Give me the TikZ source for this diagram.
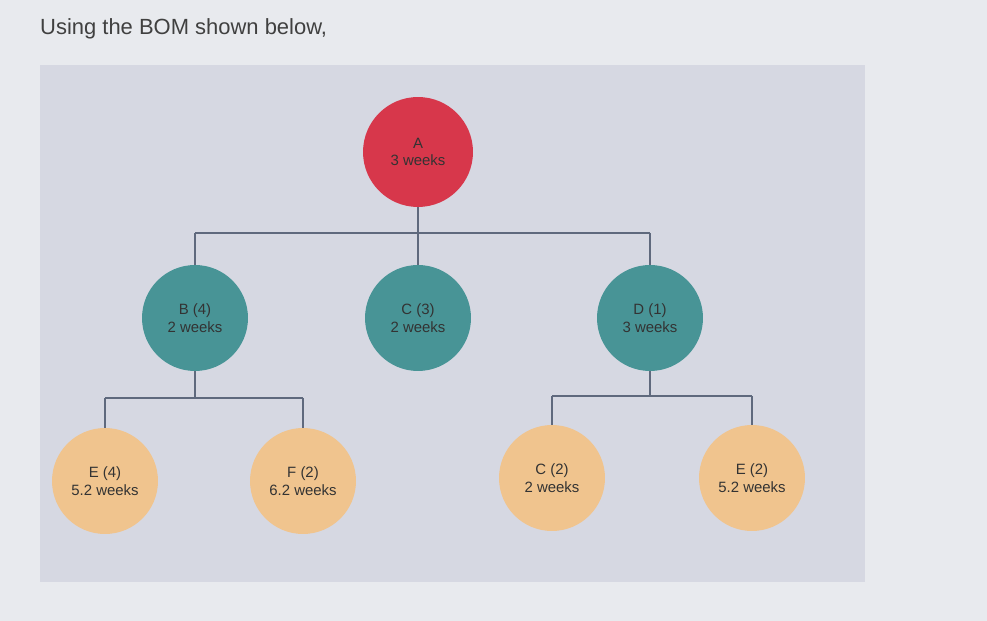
\documentclass[tikz,border=0pt]{standalone}
\usepackage{fontspec}
\setmainfont{Liberation Sans}
\definecolor{bgc}{RGB}{232,234,238}
\definecolor{panel}{RGB}{214,216,226}
\definecolor{redc}{RGB}{215,55,75}
\definecolor{tealc}{RGB}{72,148,150}
\definecolor{peach}{RGB}{240,196,142}
\definecolor{linec}{RGB}{95,105,125}
\begin{document}
\begin{tikzpicture}[x=0.02cm,y=-0.02cm,
  bub/.style={circle,minimum size=2.12cm,inner sep=0pt,align=center,font=\fontsize{8.5}{10}\selectfont,text=black!80},
  top/.style={bub,fill=redc,minimum size=2.2cm},
  mid/.style={bub,fill=tealc},
  low/.style={bub,fill=peach},
  link/.style={draw=linec,line width=0.9pt}]
\fill[bgc] (0,0) rectangle (987,621);
\useasboundingbox (0,0) rectangle (987,621);
\fill[panel] (40,65) rectangle (865,582);
\node[anchor=west,font=\fontsize{12.5}{14}\selectfont,text=black!75] (title) at (34,29) {Using the BOM shown below,};
\node[top] (A) at (418,152) {A\\3 weeks};
\node[mid] (B) at (195,318) {B (4)\\2 weeks};
\node[mid] (C) at (418,318) {C (3)\\2 weeks};
\node[mid] (D) at (650,318) {D (1)\\3 weeks};
\node[low] (E) at (105,481) {E (4)\\5.2 weeks};
\node[low] (F) at (303,481) {F (2)\\6.2 weeks};
\node[low] (C2) at (552,478) {C (2)\\2 weeks};
\node[low] (E2) at (752,478) {E (2)\\5.2 weeks};
\coordinate (h1) at (418,233);
\coordinate (h1l) at (195,233);
\coordinate (h1r) at (650,233);
\coordinate (h2) at (195,398);
\coordinate (h2l) at (105,398);
\coordinate (h2r) at (303,398);
\coordinate (h3) at (650,396);
\coordinate (h3l) at (552,396);
\coordinate (h3r) at (752,396);
\draw[link] (A) -- (h1);
\draw[link] (h1l) -- (h1r);
\draw[link] (h1l) -- (B);
\draw[link] (h1) -- (C);
\draw[link] (h1r) -- (D);
\draw[link] (B) -- (h2);
\draw[link] (h2l) -- (h2r);
\draw[link] (h2l) -- (E);
\draw[link] (h2r) -- (F);
\draw[link] (D) -- (h3);
\draw[link] (h3l) -- (h3r);
\draw[link] (h3l) -- (C2);
\draw[link] (h3r) -- (E2);
\end{tikzpicture}
\end{document}
